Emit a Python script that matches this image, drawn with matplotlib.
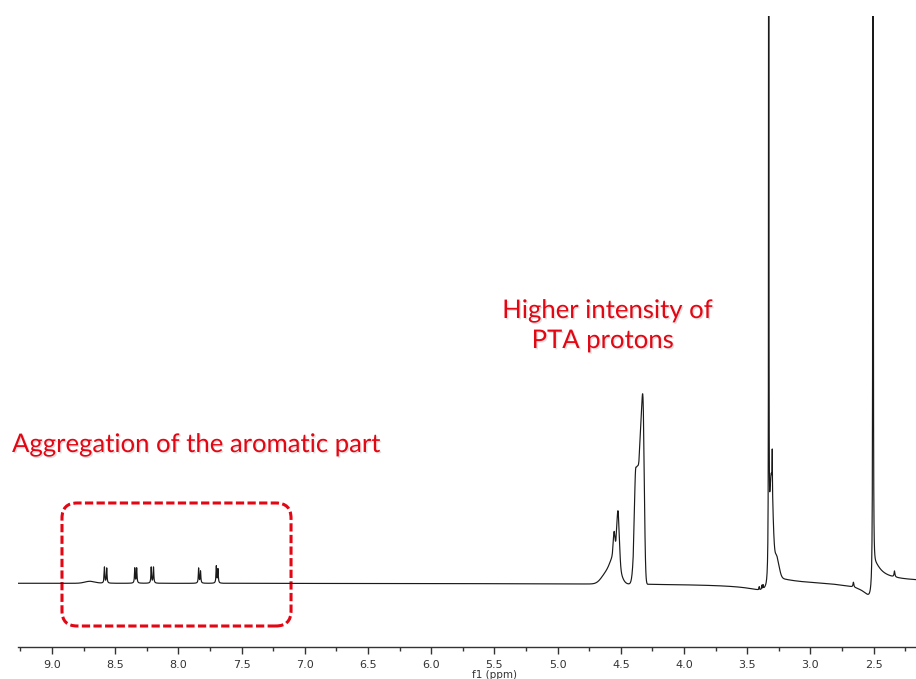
import matplotlib

matplotlib.use("Agg")
import matplotlib.pyplot as plt
import matplotlib.patheffects as pe
import matplotlib.transforms as mtransforms
from matplotlib.patches import FancyBboxPatch
import numpy as np

# 1H NMR trace (intensity in baseline-relative units)
# sharp Lorentzian lines: centre (ppm), height, half width (ppm)
sharp_ppm = [8.585, 8.567, 8.345, 8.330, 8.215, 8.197, 7.840, 7.825, 7.700, 7.687,
             3.330, 3.302, 3.405, 3.385, 3.375, 2.660, 2.505, 2.335]
sharp_height = [16, 15, 15, 15, 16, 16, 15, 12, 17, 14,
                4500, 40, 3, 4, 4, 5, 5000, 6]
sharp_width = [0.003, 0.003, 0.003, 0.003, 0.003, 0.003, 0.003, 0.003, 0.003, 0.003,
               0.0006, 0.0012, 0.002, 0.002, 0.002, 0.004, 0.0008, 0.004]

# broader Gaussian bands: centre (ppm), height, sigma (ppm)
band_ppm = [8.70, 4.338, 4.322, 4.372, 4.386, 4.522, 4.553, 4.545, 4.615, 3.310, 3.270]
band_height = [2, 128, 112, 112, 25, 50, 22, 28, 10, 100, 22]
band_width = [0.04, 0.013, 0.009, 0.018, 0.006, 0.010, 0.007, 0.035, 0.04, 0.013, 0.02]

# dispersive (phase) components of the two solvent lines
disp_ppm = [3.330, 2.505]
disp_amp = [6, 15]
disp_width = [0.07, 0.03]

tick_values = [9.0, 8.5, 8.0, 7.5, 7.0, 6.5, 6.0, 5.5, 5.0, 4.5, 4.0, 3.5, 3.0, 2.5]
tick_labels = [f"{v:.1f}" for v in tick_values]

ppm = np.arange(2.16, 9.28, 0.0001)
signal = np.zeros_like(ppm)
for c, h, w in zip(sharp_ppm, sharp_height, sharp_width):
    signal += h * w**2 / ((ppm - c) ** 2 + w**2)
for c, h, s in zip(band_ppm, band_height, band_width):
    signal += h * np.exp(-0.5 * ((ppm - c) / s) ** 2)
for c, a, w in zip(disp_ppm, disp_amp, disp_width):
    d = c - ppm
    signal += a * 2 * w * d / (d**2 + w**2)

fig = plt.figure(figsize=(9.16, 6.79), dpi=100)
ax = fig.add_axes([18 / 916, 32 / 679, 898 / 916, 631 / 679])

ax.plot(ppm, signal, color="#1a1a1a", linewidth=0.85)
ax.set_xlim(9.269, 2.165)
ax.set_ylim(-64, 567)

for side in ["left", "right", "top"]:
    ax.spines[side].set_visible(False)
ax.spines["bottom"].set_color("#333333")
ax.spines["bottom"].set_linewidth(1.0)
ax.set_yticks([])
ax.set_xticks(tick_values)
ax.set_xticklabels(tick_labels, fontsize=8, color="#333333")
ax.set_xticks(np.arange(2.25, 9.3, 0.5), minor=True)
ax.tick_params(axis="x", which="major", length=5, width=1, color="#333333", pad=4)
ax.tick_params(axis="x", which="minor", length=3, width=1, color="#333333")

trans = mtransforms.blended_transform_factory(ax.transData, fig.transFigure)
ax.text(5.5, 1 - 675 / 679, "f1 (ppm)", transform=trans, ha="center", va="center",
        fontsize=7.5, color="#333333")

red = "#e30613"
shadow = [pe.withSimplePatchShadow(offset=(1, -1), shadow_rgbFace="gray", alpha=0.25)]
fig.text(12 / 916, 1 - 452 / 679, "Aggregation of the aromatic part", color=red,
         fontsize=18.5, family="Lato", ha="left", va="baseline", path_effects=shadow)
fig.text(608 / 916, 1 - 318 / 679, "Higher intensity of", color=red,
         fontsize=18.5, family="Lato", ha="center", va="baseline", path_effects=shadow)
fig.text(603 / 916, 1 - 348 / 679, "PTA protons", color=red,
         fontsize=18.5, family="Lato", ha="center", va="baseline", path_effects=shadow)

# dashed rounded frame around the aromatic region
box = FancyBboxPatch((7.109, -43), 1.812, 123,
                     boxstyle="round,pad=0,rounding_size=0.12",
                     mutation_aspect=126.4, fill=False, edgecolor=red,
                     linewidth=2.2, linestyle=(0, (2.7, 1.1)), clip_on=False)
ax.add_patch(box)

fig.savefig("out.png", dpi=100)
plt.close(fig)
